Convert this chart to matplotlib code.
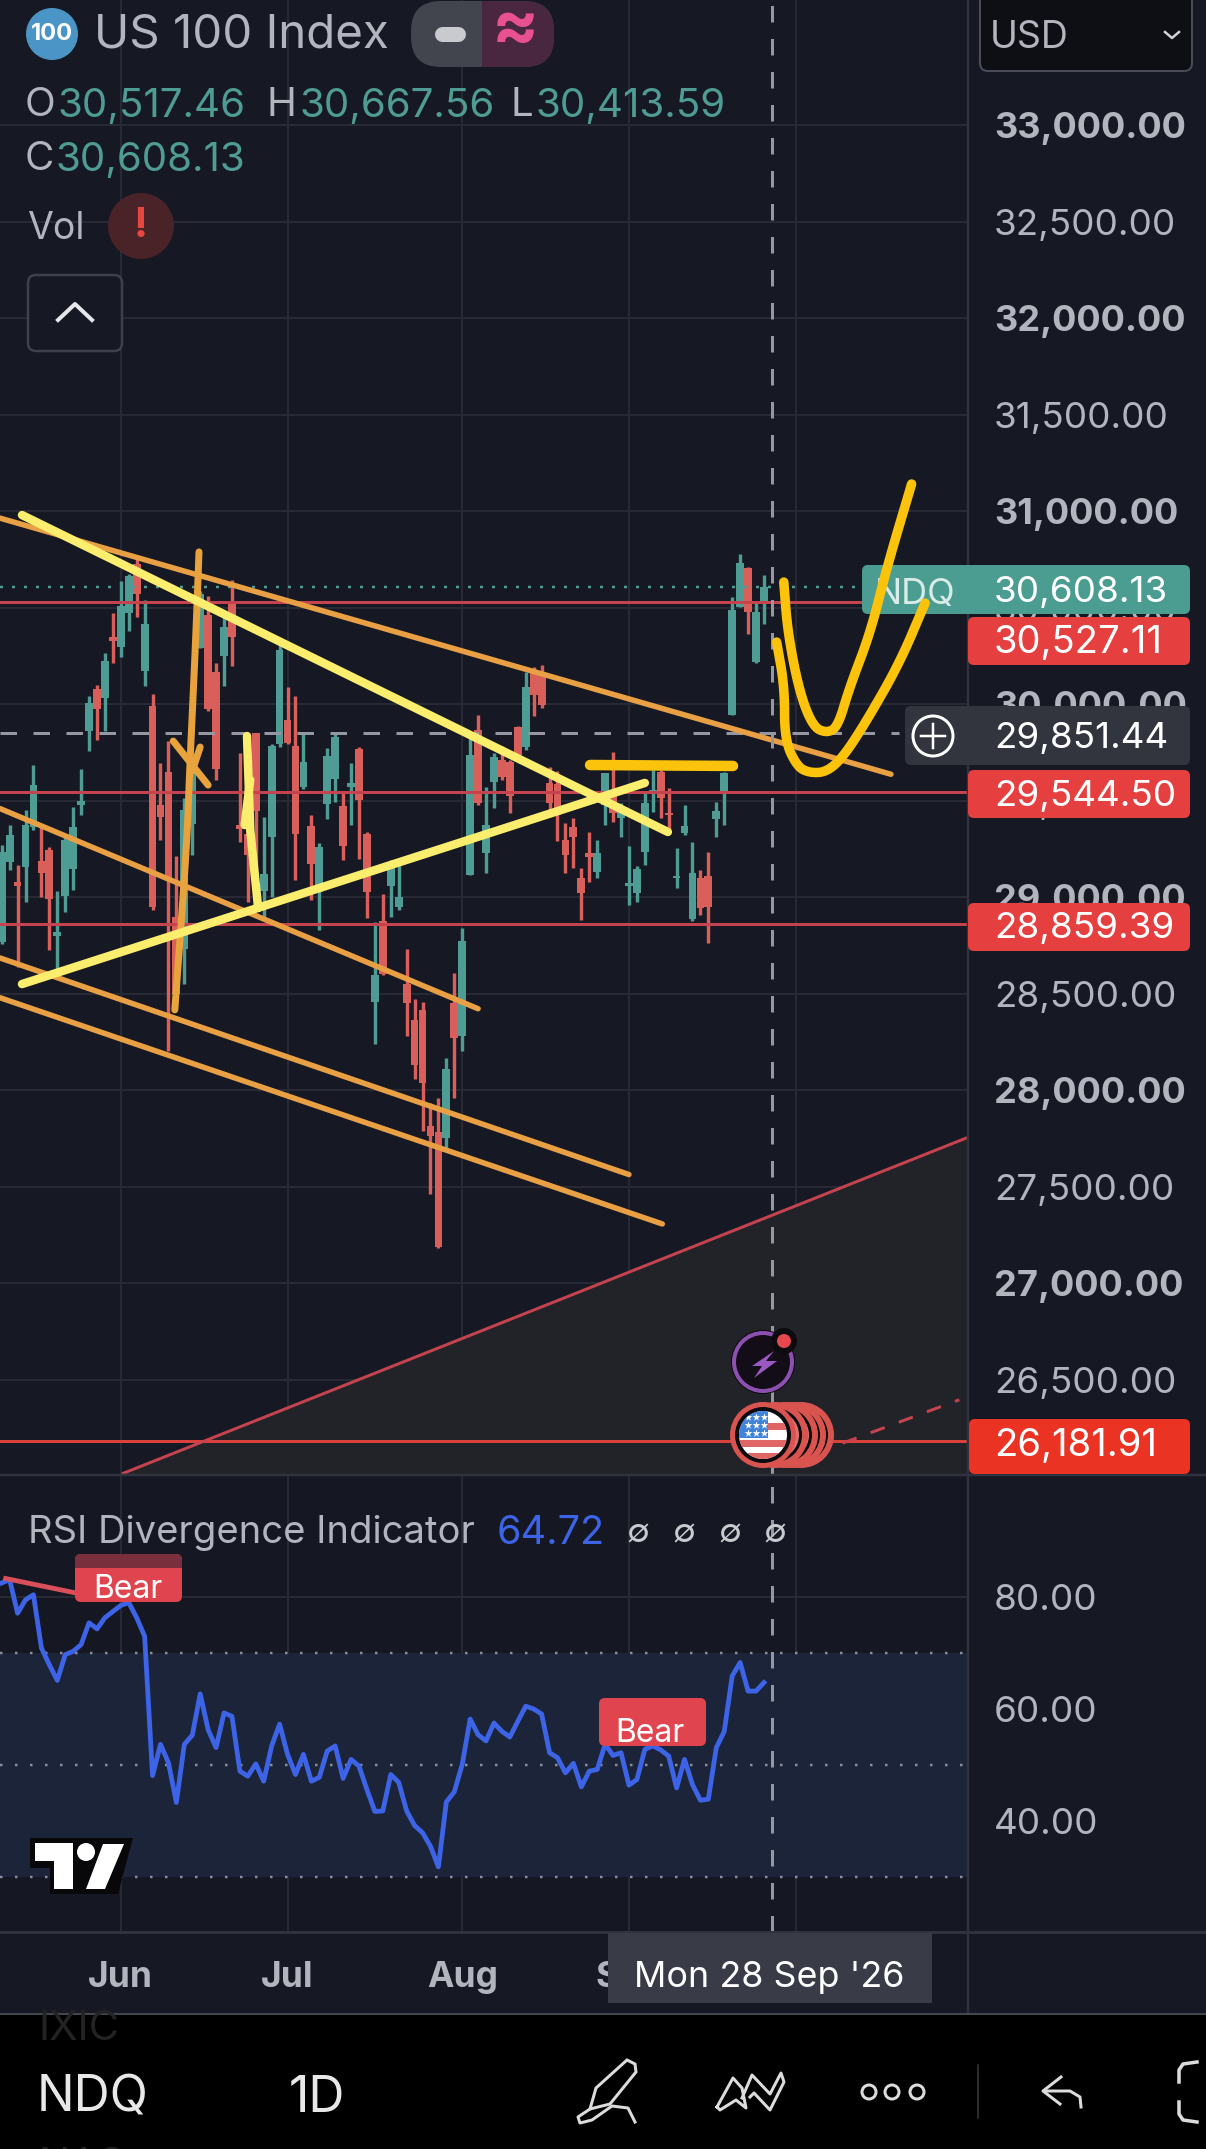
import numpy as np
import matplotlib
matplotlib.use('Agg')
import matplotlib.pyplot as plt
from matplotlib.patches import Circle, FancyBboxPatch, Polygon, Rectangle

plt.rcParams['font.family'] = ['Inter', 'DejaVu Sans']

# daily candles, one row per day
opens = [28768,29180,29077,29154,29361,29185,29245,28796,29005,29147,29477,29858,30077,30031,30345,30294,30469,30727,30173,29992,
         29477,29649,28897,28729,29379,30289,30461,30168,30250,30534,29373,29327,29850,29033,29309,29794,29915,29781,29572,29366,
         29025,29484,29613,29471,29569,29765,29327,28458,28876,29059,28948,28549,28363,28412,27814,27780,27749,28451,28278,29114,
         29865,29226,29597,29710,29701,29882,29779,30159,30159,29589,29585,29295,29364,29097,29230,29131,29477,29546,29407,29059,
         29019,29235,29546,29649,29437,29097,29330,28884,29097,29109,29402,29533,29943,30504,30706,30219,30517.46]
highs = [29270,29373,29167,29451,29683,29373,29258,29033,29322,29464,29665,30044,30101,30263,30469,30637,30675,30760,30541,30054,
         29696,29807,29214,29515,29734,30585,30559,30211,30469,30642,29747,29593,29850,29412,29794,30327,30088,30044,29850,29425,
         29278,29773,29845,29541,29696,29778,29335,28871,29018,29193,29180,28729,28471,28458,27935,27956,28167,28605,28840,29839,
         29943,29571,29744,29782,29710,29886,30167,30193,30202,29672,29654,29382,29407,29148,29338,29295,29644,29753,29485,29264,
         29160,29537,29658,29658,29563,29252,29477,29287,29140,29235,29494,29649,30556,30777,30708,30521,30667.56]
lows = [28755,29141,28639,28974,29348,29000,28724,28574,28922,29038,29425,29755,29812,29858,30211,30245,30379,30449,30095,28935,
        29296,28200,28433,28549,29219,30289,29966,29606,30095,30198,29283,28974,28974,28897,29000,29778,29794,29090,29559,28987,
        28827,29404,29490,29193,29373,29198,28889,28239,28595,28897,28935,28278,28059,27788,27461,27182,27693,27956,28201,29114,
        29477,29122,29459,29606,29433,29727,29761,29938,29977,29433,29292,29122,29148,28881,29079,29097,29373,29390,29309,28958,
        28976,29166,29442,29407,29338,29045,29321,28877,28907,28760,29312,29373,29943,30501,30362,30210,30413.59]
closes = [29232,29322,29059,29373,29580,29123,28992,28817,29296,29361,29495,30005,29974,30224,30327,30508,30663,30572,30412,28948,
          29412,29090,28497,29451,29644,30572,29972,29665,30400,30348,29353,29219,29446,29121,29781,30281,29799,29327,29701,29172,
          29258,29729,29830,29263,29590,29502,29025,28595,28600,29172,29000,28453,28131,28038,27762,27187,28110,28270,28773,29736,
          29485,29373,29727,29623,29525,29736,30086,30046,29995,29485,29425,29218,29309,29022,29209,29226,29641,29433,29459,29071,
          29143,29485,29554,29511,29425,29109,29368,29126,28941,28946,29447,29644,30487,30732,30475,30478,30608.13]
rsi = [82.5,83.1,77.1,79.5,80.4,70.9,67.9,65.1,69.7,70.3,71.5,75.4,74.3,76.3,77.4,78.5,79.0,76.3,73.0,48.1,
       53.7,50.4,43.3,53.7,55.3,62.7,56.3,53.1,59.3,58.7,48.9,48.0,50.2,47.1,53.4,57.3,51.9,48.3,51.9,47.1,
       47.8,52.5,53.4,47.6,51.0,49.8,45.6,41.7,41.8,48.3,46.9,41.8,39.2,37.9,35.5,31.8,43.4,45.2,50.1,58.2,
       55.4,54.3,57.5,56.0,55.0,57.8,60.5,60.0,59.1,52.2,51.3,48.6,50.3,46.1,48.9,49.2,53.7,51.7,52.2,46.4,
       47.4,52.8,53.4,52.7,51.6,45.9,51.0,46.5,43.7,43.9,53.1,56.0,65.9,68.3,63.2,63.2,64.72]

month_pos = [15, 36, 58, 79, 100]
month_names = ['Jun', 'Jul', 'Aug', 'Sep', 'Oct']
price_ticks = list(range(26500, 33500, 500))
rsi_ticks = [40, 60, 80]
rsi_levels = [30, 50, 70]
red_levels = [30527.11, 29544.50, 28859.39, 26181.91]
last_close = 30608.13
cross_price = 29851.44
cross_day = 97

# drawings on the chart as (day, price)
orange_lines = [[(-0.2, 30963), (112, 29636)],
                [(-0.2, 29458), (60, 28421)],
                [(-0.2, 28684), (79, 27562)],
                [(-0.2, 28478), (83.2, 27306)]]
pale_lines = [[(2.56, 30979), (83.9, 29337)],
              [(2.56, 28549), (81, 29591)],
              [(30.9, 29834), (31.3, 29347), (32.3, 28943)],
              [(30.6, 29373), (31.3, 29606)]]
orange_strokes = [[(24.85, 30788), (24.4, 30300), (23.7, 29689), (23.3, 29254), (21.8, 28415)],
                  [(21.6, 29808), (26.0, 29580)],
                  [(25, 29777), (24, 29653)]]
gold_bar = [(74.1, 29684), (92.1, 29679)]
gold_u1 = [(98.5, 30632), (99.0, 30368), (100.5, 30057), (102.2, 29881), (103.9, 29850), (105.3, 29881),
           (106.8, 30088), (109.4, 30368), (111.5, 30710), (114.6, 31140)]
gold_u2 = [(97.6, 30321), (98.6, 30088), (98.6, 29814), (100.2, 29674), (101.8, 29643), (103.9, 29648),
           (106, 29726), (109, 29917), (113.1, 30213), (116.3, 30523)]
wedge_days = [15.3, 121.65]
wedge_prices = [26014, 27754]
dash_days = [105.9, 120.6]
dash_prices = [26170, 26395]
div_days = [0.5, 9.4]
div_rsi = [83.3, 80.7]

BG = '#161823'
GRID = '#272a35'
GREEN = '#4e9c93'
RED = '#d95f5b'
TXT = '#b2b5be'
LINE_RED = '#c4434e'
PX = 0.72

fig = plt.figure(figsize=(12.06, 21.49), dpi=100, facecolor=BG)
W, H = 1206, 2149
main_box = [0, (H - 1474) / H, 967.6 / W, 1474 / H]
ax = fig.add_axes(main_box, facecolor=BG)
ax2 = fig.add_axes([0, (H - 1932) / H, 967.6 / W, 458 / H], facecolor='#151722')
ui = fig.add_axes([0, 0, 1, 1], zorder=10)
ui.set_xlim(0, W)
ui.set_ylim(H, 0)
ui.axis('off')
ui.patch.set_alpha(0)
over = fig.add_axes(main_box, zorder=20)
over.axis('off')
over.patch.set_alpha(0)


def smooth(pts, n=3):
    p = np.array(pts, dtype=float)
    for _ in range(n):
        q = p[:-1] * 0.75 + p[1:] * 0.25
        r = p[:-1] * 0.25 + p[1:] * 0.75
        m = np.empty((len(q) * 2, 2))
        m[0::2] = q
        m[1::2] = r
        p = np.vstack([p[0], m, p[-1]])
    return p


def stroke(a, pts, color, w, z=5):
    p = np.array(pts, dtype=float)
    a.plot(p[:, 0], p[:, 1], color=color, lw=w * PX, solid_capstyle='round', solid_joinstyle='round', zorder=z)


def rbox(x0, y0, x1, y1, color, r=6, ec='none', lw=0, z=2):
    b = FancyBboxPatch((x0 + r, y0 + r), x1 - x0 - 2 * r, y1 - y0 - 2 * r, boxstyle='round,pad=%d,rounding_size=%d' % (r, r),
                       fc=color, ec=ec, lw=lw, zorder=z)
    ui.add_patch(b)
    return b


def label(x, y, s, color=TXT, size=26, ha='left', weight='normal', z=6):
    return ui.text(x, y + 3, s, color=color, fontsize=size, ha=ha, va='center', fontweight=weight, zorder=z)


# price panel
days = np.arange(len(opens))
o = np.array(opens)
c = np.array(closes)
hi = np.array(highs)
lo = np.array(lows)
cols = [GREEN if b >= a else RED for a, b in zip(o, c)]
ax.set_xlim(-0.214, 121.65)
ax.set_ylim(26010.4, 33647.7)
ax.fill_between(wedge_days, wedge_prices, 26010.4, color='#212329', lw=0, zorder=1)
ax.vlines(days, lo, hi, colors=cols, lw=3.4 * PX, zorder=3)
ax.bar(days, np.abs(c - o), bottom=np.minimum(o, c), width=0.98, color=cols, lw=0, zorder=3)
for v in red_levels:
    ax.axhline(v, color=LINE_RED if v > 27000 else '#d8413c', lw=3 * PX, zorder=4)
ax.plot(wedge_days, wedge_prices, color=LINE_RED, lw=3 * PX, zorder=4)
ax.plot(dash_days, dash_prices, color=LINE_RED, lw=3 * PX, ls=(0, (5, 5)), zorder=4)
ax.axhline(last_close, color=GREEN, lw=2.5 * PX, ls=(0, (1.2, 3.6)), zorder=4)
ax.plot([-0.2, 113], [cross_price, cross_price], color='#9598a1', lw=3 * PX, ls=(0, (5.5, 5.5)), zorder=4)
for seg in orange_lines:
    stroke(ax, seg, '#e9a045', 5.5)
for seg in orange_strokes:
    stroke(ax, smooth(seg), '#e8a33d', 7)
for seg in pale_lines:
    stroke(ax, seg, '#fbee6e', 8.5, z=6)

over.set_xlim(-0.214, 121.65)
over.set_ylim(26010.4, 33647.7)
stroke(over, gold_bar, '#fcc30c', 10.5, z=7)
stroke(over, smooth(gold_u1), '#fcc30c', 9.5, z=7)
stroke(over, smooth(gold_u2), '#fcc30c', 9.5, z=7)

ax.set_yticks(price_ticks)
ax.set_yticklabels(['{:,.2f}'.format(v) for v in price_ticks])
ax.yaxis.tick_right()
ax.tick_params(axis='y', length=0, pad=19, labelsize=26.5, labelcolor=TXT)
for t, v in zip(ax.yaxis.get_ticklabels(), price_ticks):
    if v % 1000 == 0:
        t.set_fontweight('bold')
        t.set_fontsize(26)
ax.set_xticks(month_pos)
ax.tick_params(axis='x', length=0, labelbottom=False)
ax.grid(True, color=GRID, lw=2 * PX, zorder=0)
ax.set_axisbelow(True)
for s in ax.spines.values():
    s.set_visible(False)

# RSI panel
ax2.set_xlim(-0.214, 121.65)
ax2.set_ylim(20.18, 101.96)
ax2.axhspan(rsi_levels[0], rsi_levels[2], color='#1b2438', lw=0, zorder=1)
for v in rsi_levels:
    ax2.axhline(v, color='#8a8e9a', lw=2.5 * PX, ls=(0, (1, 5)), zorder=2)
ax2.plot(days, rsi, color='#3d63e6', lw=4.8 * PX, zorder=4, solid_joinstyle='round')
ax2.plot(div_days, div_rsi, color='#d9505a', lw=4.8 * PX, zorder=4)
ax2.set_yticks(rsi_ticks)
ax2.set_yticklabels(['%.2f' % v for v in rsi_ticks])
ax2.yaxis.tick_right()
ax2.tick_params(axis='y', length=0, pad=19, labelsize=26.5, labelcolor=TXT)
ax2.set_xticks(month_pos)
ax2.set_xticklabels(month_names, fontweight='bold')
ax2.tick_params(axis='x', length=0, pad=21, labelsize=25.5, labelcolor=TXT)
ax2.grid(True, color=GRID, lw=2 * PX, zorder=0)
ax2.set_axisbelow(True)
for s in ax2.spines.values():
    s.set_visible(False)

for a in (ax, ax2):
    a.axvline(cross_day, color='#9598a1', lw=3 * PX, ls=(0, (5.5, 5.5)), zorder=5)

# frame of the app
ui.plot([967.6, 967.6], [0, 2014], color='#30333e', lw=2.5 * PX, zorder=1)
ui.plot([0, W], [1475, 1475], color='#30333e', lw=2.5 * PX, zorder=1)
ui.plot([0, W], [1932, 1932], color='#30333e', lw=3 * PX, zorder=1)
ui.add_patch(Rectangle((0, 2014), W, 135, fc='black', ec='none', zorder=1))
ui.plot([0, W], [2014, 2014], color='#43454f', lw=2 * PX, zorder=2)

# header
ui.add_patch(Circle((52, 34), 26, fc='#4a95c5', zorder=3))
label(52, 31, '100', 'white', 17, 'center', 'bold')
label(94, 33, 'US 100 Index', TXT, 34.2)
rbox(411, 1, 554, 67, '#43454e', r=30, z=3)
right = rbox(445, 1, 554, 67, '#4a2741', r=30, z=3)
right.set_clip_path(Rectangle((482, 0), 80, 70, transform=ui.transData))
ui.plot([442, 458], [34, 34], color='#c9cad0', lw=15 * PX, solid_capstyle='round', zorder=4)
label(515, 26, '≈', '#e8518f', 50, 'center', 'bold')

label(25, 103, 'O', TXT, 29)
label(57, 103, '30,517.46', GREEN, 29)
label(267, 103, 'H', TXT, 29)
label(299, 103, '30,667.56', GREEN, 29)
label(510, 103, 'L', TXT, 29)
label(535, 103, '30,413.59', GREEN, 29)
label(25, 157, 'C', TXT, 29)
label(56, 157, '30,608.13', GREEN, 29)
label(27, 226, 'Vol', TXT, 27)
ui.add_patch(Circle((141, 226), 33, fc='#4a2328', zorder=3))
label(141, 223, '!', '#e8473f', 30, 'center', 'bold')
rbox(28, 275, 122, 351, BG, r=8, ec='#3e404a', lw=2.5 * PX, z=3)
ui.plot([58, 75, 92], [320, 304, 320], color='#e6e7ea', lw=4 * PX, zorder=4)

# USD box
rbox(980, -12, 1192, 71, '#0e0f15', r=8, ec='#4a4c56', lw=2 * PX, z=3)
label(990, 35, 'USD', TXT, 27)
ui.plot([1165, 1172, 1179], [32, 38, 32], color='#d0d1d6', lw=2.5 * PX, zorder=4)

# price tags
rbox(862, 565, 990, 614, '#4b9d92', r=6, z=3)
label(915, 591, 'NDQ', '#d8ebe8', 26, 'center')
rbox(968, 565, 1190, 614, '#4b9d92', r=6, z=3)
label(994, 589, '30,608.13', 'white', 26.5)
rbox(968, 617, 1190, 665, '#e5403f', r=6, z=3)
label(994, 640, '30,527.11', 'white', 27.5)
rbox(905, 706, 1190, 765, '#32343e', r=6, z=3)
ui.add_patch(Circle((933, 736), 20, fc='none', ec='white', lw=3 * PX, zorder=4))
ui.plot([921, 945], [736, 736], color='white', lw=2.5 * PX, zorder=4)
ui.plot([933, 933], [724, 748], color='white', lw=2.5 * PX, zorder=4)
label(994, 735, '29,851.44', 'white', 26.5)
rbox(968, 770, 1190, 818, '#e5403f', r=6, z=3)
label(994, 794, '29,544.50', 'white', 26.5)
rbox(968, 903, 1190, 951, '#e5403f', r=6, z=3)
label(994, 926, '28,859.39', 'white', 26.5)
rbox(969, 1419, 1190, 1474, '#ea3323', r=6, z=3)
label(994, 1443, '26,181.91', 'white', 27.5)

# event icons
ui.add_patch(Circle((763, 1362), 32, fc='#0c0c10', zorder=3))
ui.add_patch(Circle((763, 1362), 29, fc='#120d16', ec='#8e50b0', lw=4 * PX, zorder=4))
ui.add_patch(Polygon([(774, 1351), (752, 1366), (762, 1366), (754, 1378), (777, 1361), (766, 1361)], fc='#9b59c4', zorder=5))
ui.add_patch(Circle((784, 1341), 13, fc='#0c0c10', zorder=5))
ui.add_patch(Circle((784, 1341), 7, fc='#e5484d', zorder=6))
for cx in [801, 793, 785, 775]:
    ui.add_patch(Circle((cx, 1435), 33, fc='#d9534f', zorder=3))
    ui.add_patch(Circle((cx, 1435), 27, fc='#0c0c10', zorder=3))
    ui.add_patch(Circle((cx, 1435), 24, fc='#e07070', zorder=3))
ui.add_patch(Circle((763, 1435), 33, fc='#d9534f', zorder=4))
ui.add_patch(Circle((763, 1435), 28, fc='#0c0c10', zorder=4))
flag = Circle((763, 1435), 24, fc='white', zorder=4)
ui.add_patch(flag)
for y0 in [1423, 1440, 1453]:
    r = Rectangle((735, y0), 60, 7, fc='#e06666', zorder=5)
    ui.add_patch(r)
    r.set_clip_path(flag)
r = Rectangle((735, 1408), 33, 30, fc='#3f83dc', zorder=5)
ui.add_patch(r)
r.set_clip_path(flag)
sx, sy = np.meshgrid([748, 756, 764], [1417, 1425, 1433])
s = ui.scatter(sx.ravel(), sy.ravel(), marker='*', s=34, color='white', lw=0, zorder=6)
s.set_clip_path(flag)

# RSI header and labels
label(28, 1530, 'RSI Divergence Indicator', TXT, 27.5)
label(497, 1530, '64.72', '#3d63e6', 28.5)
for x in [638, 684, 730, 775]:
    label(x, 1530, '∅', '#c9cad0', 24, 'center')
rbox(75, 1554, 182, 1602, '#e0454f', r=6, z=3)
top = rbox(75, 1554, 182, 1602, '#7a303c', r=6, z=3)
top.set_clip_path(Rectangle((70, 1550), 120, 18, transform=ui.transData))
label(128, 1586, 'Bear', 'white', 23, 'center')
rbox(599, 1698, 706, 1746, '#e0454f', r=6, z=3)
label(650, 1730, 'Bear', 'white', 23, 'center')

# logo
ui.add_patch(Polygon([(30, 1838), (133, 1838), (118, 1894), (50, 1894), (50, 1868), (30, 1868)], fc='#08080b', zorder=3))
ui.add_patch(Polygon([(35, 1843), (73, 1843), (73, 1889), (54, 1889), (54, 1861), (35, 1861)], fc='white', zorder=4))
ui.add_patch(Circle((86, 1852), 9, fc='white', zorder=4))
ui.add_patch(Polygon([(103, 1844), (124, 1844), (105, 1889), (86, 1889)], fc='white', zorder=4))

# crosshair date
ui.add_patch(Rectangle((608, 1933), 324, 70, fc='#393b47', zorder=3))
label(769, 1974, "Mon 28 Sep '26", 'white', 25.8, 'center')

# toolbar
ghost = label(38, 2026, 'IXIC', '#232325', 30)
ghost2 = label(38, 2163, 'NAS', '#232325', 30)
ghost.set_clip_path(Rectangle((0, 2015), W, 134, transform=ui.transData))
ghost2.set_clip_path(Rectangle((0, 2015), W, 134, transform=ui.transData))
label(37, 2095, 'NDQ', '#e8e8e8', 36)
label(289, 2095, '1D', '#e8e8e8', 36)
icon = '#dcdcdc'
ui.add_patch(Polygon([(627, 2060), (635, 2064), (636, 2072), (610, 2104), (590, 2109), (596, 2088)], fc='none', ec=icon, lw=3 * PX, zorder=4))
ui.plot([590, 578, 580, 592, 612, 628, 635], [2109, 2117, 2123, 2120, 2106, 2108, 2122], color=icon, lw=3 * PX, zorder=4)
ui.plot([717, 733, 742, 746, 736, 720, 717], [2107, 2078, 2088, 2108, 2100, 2110, 2107], color=icon, lw=3 * PX, zorder=4)
ui.plot([742, 752, 770, 781, 784, 770, 754, 750], [2098, 2075, 2094, 2073, 2082, 2110, 2093, 2097], color=icon, lw=3 * PX, zorder=4)
for x in [869, 892, 917]:
    ui.add_patch(Circle((x, 2092), 7, fc='none', ec=icon, lw=3 * PX, zorder=4))
ui.plot([978, 978], [2065, 2118], color='#3a3a3c', lw=1.5 * PX, zorder=4)
ui.plot([1061, 1043, 1060], [2077, 2091, 2104], color=icon, lw=3 * PX, zorder=4)
ui.plot([1046, 1070, 1080, 1081], [2091, 2091, 2097, 2107], color=icon, lw=3 * PX, zorder=4)
ui.plot([1197, 1183, 1179, 1179], [2062, 2064, 2070, 2082], color=icon, lw=3.5 * PX, zorder=4)
ui.plot([1179, 1179, 1183, 1197], [2102, 2114, 2120, 2122], color=icon, lw=3.5 * PX, zorder=4)

fig.savefig('out.png', dpi=100, facecolor=fig.get_facecolor())
